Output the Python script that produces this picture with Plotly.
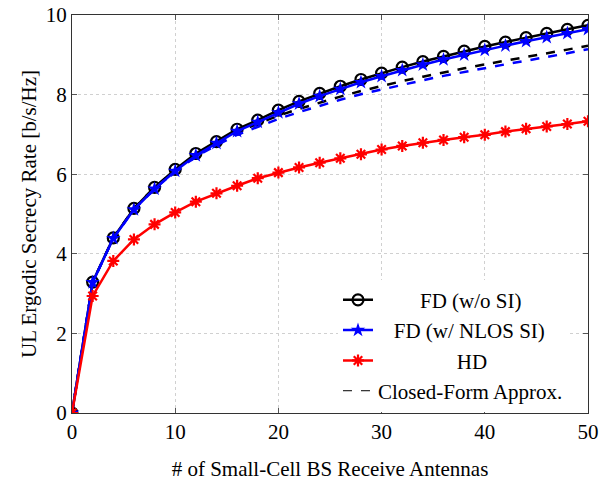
import plotly.graph_objects as go

# ---- data ----
antennas = [0, 2, 4, 6, 8, 10, 12, 14, 16, 18, 20, 22, 24, 26, 28, 30, 32, 34, 36, 38, 40, 42, 44, 46, 48, 50]

fd_wo_si = [0, 3.29, 4.40, 5.14, 5.67, 6.12, 6.52, 6.82, 7.13, 7.36, 7.61, 7.83, 8.03, 8.21, 8.38, 8.54,
            8.69, 8.83, 8.96, 9.09, 9.21, 9.32, 9.43, 9.54, 9.64, 9.74]
fd_nlos_si = [0, 3.28, 4.39, 5.11, 5.63, 6.08, 6.47, 6.78, 7.08, 7.31, 7.55, 7.77, 7.96, 8.14, 8.31, 8.46,
              8.61, 8.75, 8.88, 9.00, 9.12, 9.23, 9.34, 9.44, 9.54, 9.64]
hd = [0, 2.94, 3.82, 4.36, 4.74, 5.04, 5.31, 5.52, 5.71, 5.90, 6.04, 6.17, 6.29, 6.40, 6.50, 6.62,
      6.71, 6.79, 6.86, 6.93, 6.99, 7.07, 7.14, 7.20, 7.26, 7.33]
approx_fd_wo_si = [0, 3.29, 4.40, 5.14, 5.67, 6.11, 6.49, 6.78, 7.05, 7.27, 7.47, 7.64, 7.80, 7.95, 8.09, 8.22,
                   8.34, 8.45, 8.56, 8.66, 8.76, 8.85, 8.94, 9.03, 9.13, 9.23]
approx_fd_nlos_si = [0, 3.28, 4.39, 5.11, 5.63, 6.07, 6.44, 6.73, 6.99, 7.20, 7.39, 7.56, 7.72, 7.87, 8.01, 8.13,
                     8.25, 8.36, 8.47, 8.57, 8.67, 8.76, 8.85, 8.94, 9.04, 9.14]

x_ticks = [0, 10, 20, 30, 40, 50]
y_ticks = [0, 2, 4, 6, 8, 10]

FONT = "Liberation Serif"
FS = 21
NB = "\u00a0"

fig = go.Figure()

fig.add_trace(go.Scatter(
    x=antennas, y=fd_wo_si, mode="lines+markers", name=NB * 8 + "FD (w/o SI)",
    line=dict(color="black", width=2.5),
    marker=dict(symbol="circle-open", size=11, color="black", line=dict(width=2.2)),
))
fig.add_trace(go.Scatter(
    x=antennas, y=approx_fd_wo_si, mode="lines", showlegend=False,
    line=dict(color="black", width=2.5, dash="dash"),
))
fig.add_trace(go.Scatter(
    x=antennas, y=fd_nlos_si, mode="lines+markers", name=NB * 3 + "FD (w/ NLOS SI)",
    line=dict(color="blue", width=2.5),
    marker=dict(symbol="star", size=11, color="blue"),
))
fig.add_trace(go.Scatter(
    x=antennas, y=approx_fd_nlos_si, mode="lines", showlegend=False,
    line=dict(color="blue", width=2.5, dash="dash"),
))
fig.add_trace(go.Scatter(
    x=antennas, y=hd, mode="lines+markers", name=NB * 15 + "HD",
    line=dict(color="red", width=2.5),
    marker=dict(symbol="asterisk-open", size=10, color="red", line=dict(width=2.2, color="red")),
))
# legend-only entry for the closed-form approximation
fig.add_trace(go.Scatter(
    x=[None], y=[None], mode="lines", name="Closed-Form Approx.",
    line=dict(color="black", width=1, dash="dash"),
))

axis_common = dict(
    showline=True, linecolor="#333333", linewidth=1, mirror="ticks",
    ticks="inside", ticklen=5, tickcolor="#555555",
    showgrid=True, gridcolor="#d0d0d0", griddash="dot", gridwidth=1,
    zeroline=False, automargin=False,
    tickfont=dict(family=FONT, size=FS, color="black"),
)

fig.update_xaxes(
    range=[0, 50], tickvals=x_ticks,
    title=dict(text="# of Small-Cell BS Receive Antennas", font=dict(family=FONT, size=FS, color="black"), standoff=18),
    **axis_common,
)
fig.update_yaxes(
    range=[0, 10], tickvals=y_ticks,
    title=dict(text="UL Ergodic Secrecy Rate [b/s/Hz]", font=dict(family=FONT, size=FS, color="black"), standoff=3),
    **axis_common,
)

fig.update_layout(
    width=612, height=489,
    margin=dict(l=72, r=24, t=15, b=76),
    paper_bgcolor="white", plot_bgcolor="white",
    font=dict(family=FONT, size=FS, color="black"),
    showlegend=True,
    legend=dict(
        x=0.5155, y=0.335, xanchor="left", yanchor="top",
        bgcolor="white", borderwidth=0,
        font=dict(family=FONT, size=FS, color="black"),
        tracegroupgap=0,
    ),
)

fig.write_html("out.html")
